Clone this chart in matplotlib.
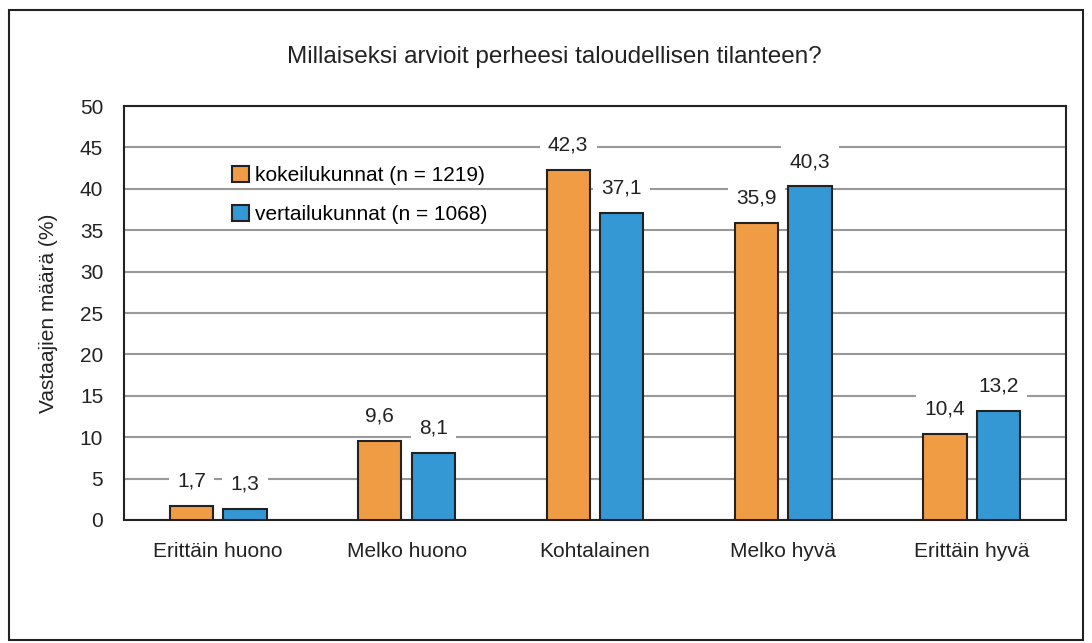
import matplotlib.pyplot as plt
import matplotlib.patches as mpatches
import numpy as np

categories = ['Erittäin huono', 'Melko huono', 'Kohtalainen', 'Melko hyvä', 'Erittäin hyvä']
kokeilu = [1.7, 9.6, 42.3, 35.9, 10.4]
vertailu = [1.3, 8.1, 37.1, 40.3, 13.2]
labels = ['kokeilukunnat (n = 1219)', 'vertailukunnat (n = 1068)']

plt.rcParams['font.family'] = ['Liberation Sans', 'DejaVu Sans']

orange = '#F09C45'
blue = '#3498D4'
dark = '#222222'

fig = plt.figure(figsize=(10.92, 6.43), dpi=100)
ax = fig.add_axes([0.1136, 0.1913, 0.8624, 0.6437])

# outer frame
fig.patches.append(mpatches.Rectangle((0.008, 0.005), 0.984, 0.98, transform=fig.transFigure,
                                      fill=False, edgecolor=dark, linewidth=1.5))

x = np.arange(len(categories))
w = 0.23
off = 0.142
b1 = ax.bar(x - off, kokeilu, w, color=orange, edgecolor=dark, linewidth=1.5,
            label=labels[0], zorder=3)
b2 = ax.bar(x + off, vertailu, w, color=blue, edgecolor=dark, linewidth=1.5,
            label=labels[1], zorder=3)

for bars, vals in [(b1, kokeilu), (b2, vertailu)]:
    for r, v in zip(bars, vals):
        ax.text(r.get_x() + r.get_width() / 2, v + 3.0, f'{v:.1f}'.replace('.', ','),
                ha='center', va='center', fontsize=15, color=dark, zorder=4,
                bbox=dict(facecolor='white', edgecolor='none', pad=6))

ax.set_xlim(-0.5, 4.5)
ax.set_ylim(0, 50)
ax.set_yticks(range(0, 51, 5))
ax.set_xticks(x)
ax.set_xticklabels(categories)
ax.tick_params(axis='both', length=0, labelsize=15, colors=dark)
ax.tick_params(axis='y', pad=15)
ax.tick_params(axis='x', pad=16)
ax.yaxis.grid(True, color='#999999', linewidth=1.5, zorder=0)
ax.set_axisbelow(True)
for s in ax.spines.values():
    s.set_color(dark)
    s.set_linewidth(1.5)

ax.set_ylabel('Vastaajien määrä (%)', fontsize=15, color=dark, labelpad=16)
fig.text(0.508, 0.912, 'Millaiseksi arvioit perheesi taloudellisen tilanteen?',
         ha='center', va='center', fontsize=17.5, color=dark)

leg = ax.legend(loc='upper left', bbox_to_anchor=(0.095, 0.9), frameon=False, fontsize=15,
                handlelength=0.8, handleheight=0.8, handletextpad=0.3, labelspacing=0.95)
for h in leg.legend_handles:
    h.set_linewidth(1.5)

fig.savefig('out.png', dpi=100)
